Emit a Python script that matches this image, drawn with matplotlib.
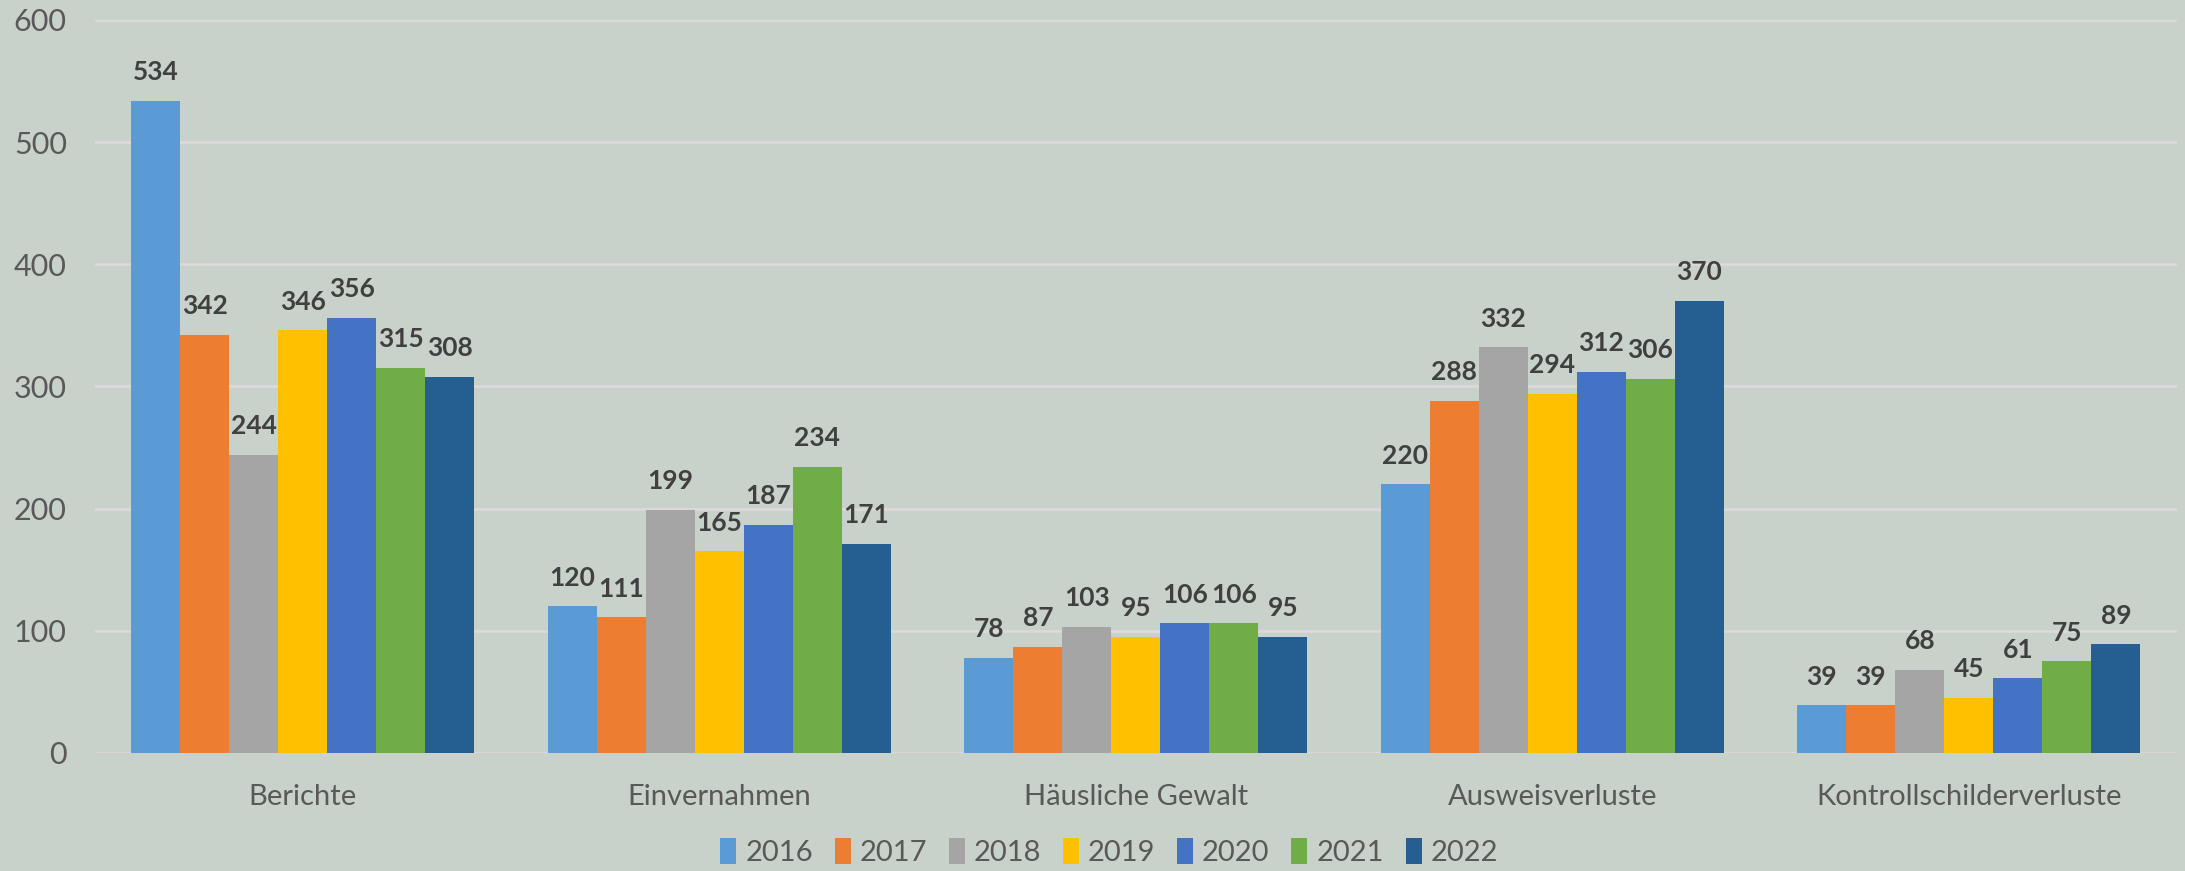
import numpy as np
import matplotlib.pyplot as plt

kategorien = ["Berichte", "Einvernahmen", "Häusliche Gewalt", "Ausweisverluste", "Kontrollschilderverluste"]
jahre = ["2016", "2017", "2018", "2019", "2020", "2021", "2022"]

# Werte pro Jahr, Reihenfolge wie kategorien
werte_2016 = [534, 120, 78, 220, 39]
werte_2017 = [342, 111, 87, 288, 39]
werte_2018 = [244, 199, 103, 332, 68]
werte_2019 = [346, 165, 95, 294, 45]
werte_2020 = [356, 187, 106, 312, 61]
werte_2021 = [315, 234, 106, 306, 75]
werte_2022 = [308, 171, 95, 370, 89]
reihen = [werte_2016, werte_2017, werte_2018, werte_2019, werte_2020, werte_2021, werte_2022]

farben = ["#5B9BD5", "#ED7D31", "#A5A5A5", "#FFC000", "#4472C4", "#70AD47", "#255E91"]
hintergrund = "#C8D2CA"

plt.rcParams['font.family'] = ['Lato', 'DejaVu Sans']

fig = plt.figure(figsize=(21.85, 8.71), dpi=100)
fig.patch.set_facecolor(hintergrund)
ax = fig.add_axes([0.0433, 0.1355, 0.9531, 0.8416])
ax.set_facecolor(hintergrund)

x = np.arange(len(kategorien))
gruppe = 0.824
breite = gruppe / len(jahre)

for i, (jahr, werte) in enumerate(zip(jahre, reihen)):
    pos = x - gruppe / 2 + breite * (i + 0.5)
    balken = ax.bar(pos, werte, width=breite, color=farben[i], label=jahr, zorder=3)
    ax.bar_label(balken, padding=12, fontsize=19, fontweight='bold', color='#404040')

ax.set_xlim(-0.5, len(kategorien) - 0.5)
ax.set_ylim(0, 600)
ax.set_yticks(range(0, 601, 100))
ax.set_xticks(x)
ax.set_xticklabels(kategorien)
ax.tick_params(axis='both', length=0, labelcolor='#595959')
ax.tick_params(axis='y', pad=20, labelsize=22)
ax.tick_params(axis='x', pad=22, labelsize=21)
ax.grid(axis='y', color='#DDD8DA', linewidth=2, zorder=0)
for s in ax.spines.values():
    s.set_visible(False)

leg = fig.legend(loc='center', bbox_to_anchor=(0.5076, 0.022), ncol=7, frameon=False,
                 fontsize=21, handlelength=0.55, handleheight=1.0,
                 handletextpad=0.3, columnspacing=0.75)
for t in leg.get_texts():
    t.set_color('#595959')

plt.savefig("out.png", dpi=100, facecolor=fig.get_facecolor())
